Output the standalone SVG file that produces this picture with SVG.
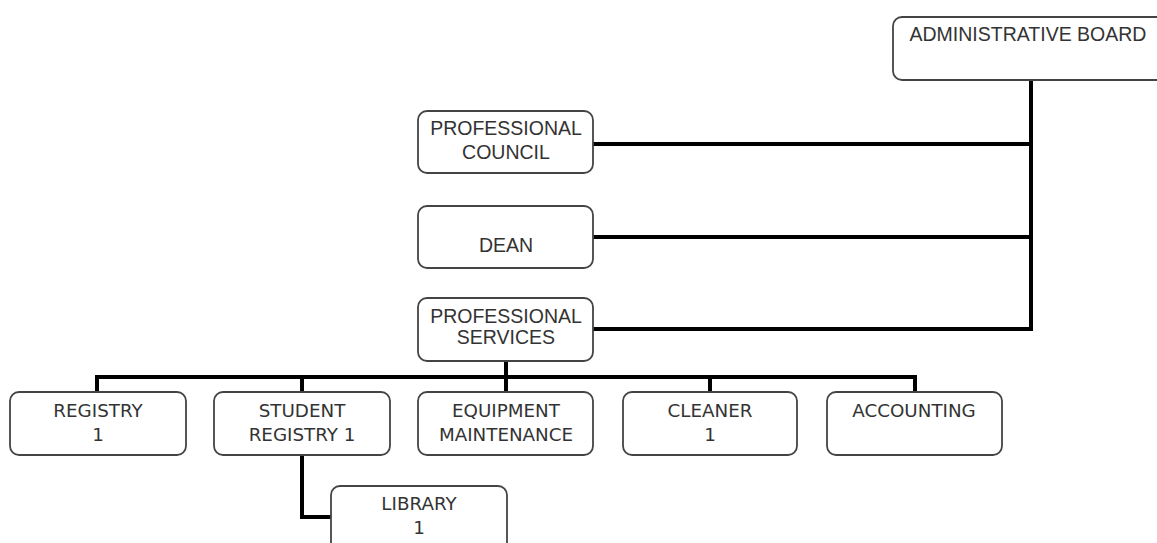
<svg xmlns="http://www.w3.org/2000/svg" width="1157" height="543" viewBox="0 0 1157 543">
<style>
.box{fill:#fff;stroke:#444;stroke-width:1.8}
.a{font-family:"Liberation Sans",Arial,sans-serif;font-size:19.5px;fill:#333;text-anchor:middle}
.v{font-family:"DejaVu Sans",Verdana,sans-serif;font-size:18.3px;fill:#333;text-anchor:middle}
.c{fill:none;stroke:#000;stroke-width:4}
</style>
<rect width="1157" height="543" fill="#fff"/>
<g id="connectors">
<path class="c" d="M1031 80V331"/>
<path class="c" d="M593 144H1031"/>
<path class="c" d="M593 237H1031"/>
<path class="c" d="M593 329H1031"/>
<path class="c" d="M506 361V377"/>
<path class="c" d="M97 392V377H915V392"/>
<path class="c" d="M302 377V392"/>
<path class="c" d="M506 377V392"/>
<path class="c" d="M710 377V392"/>
<path class="c" d="M302 455V517H331"/>
</g>
<g id="admin-board"><rect class="box" x="893" y="17" width="290" height="63" rx="9"/><text class="a" x="1028" y="41">ADMINISTRATIVE BOARD</text></g>
<g id="professional-council"><rect class="box" x="418" y="111" width="175" height="62" rx="9"/><text class="a" x="506" y="135">PROFESSIONAL</text><text class="a" x="506" y="159">COUNCIL</text></g>
<g id="dean"><rect class="box" x="418" y="206" width="175" height="62" rx="9"/><text class="a" x="506" y="252">DEAN</text></g>
<g id="professional-services"><rect class="box" x="418" y="298" width="175" height="63" rx="9"/><text class="a" x="506" y="323">PROFESSIONAL</text><text class="a" x="506" y="344">SERVICES</text></g>
<g id="registry"><rect class="box" x="10" y="392" width="176" height="63" rx="9"/><text class="v" x="98" y="417">REGISTRY</text><text class="v" x="98" y="441">1</text></g>
<g id="student-registry"><rect class="box" x="214" y="392" width="176" height="63" rx="9"/><text class="v" x="302" y="417">STUDENT</text><text class="v" x="302" y="441">REGISTRY 1</text></g>
<g id="equipment-maintenance"><rect class="box" x="418" y="392" width="175" height="63" rx="9"/><text class="v" x="506" y="417">EQUIPMENT</text><text class="v" x="506" y="441">MAINTENANCE</text></g>
<g id="cleaner"><rect class="box" x="623" y="392" width="174" height="63" rx="9"/><text class="v" x="710" y="417">CLEANER</text><text class="v" x="710" y="441">1</text></g>
<g id="accounting"><rect class="box" x="827" y="392" width="175" height="63" rx="9"/><text class="v" x="914" y="417">ACCOUNTING</text></g>
<g id="library"><rect class="box" x="331" y="486" width="176" height="70" rx="9"/><text class="v" x="419" y="510">LIBRARY</text><text class="v" x="419" y="534">1</text></g>
</svg>
